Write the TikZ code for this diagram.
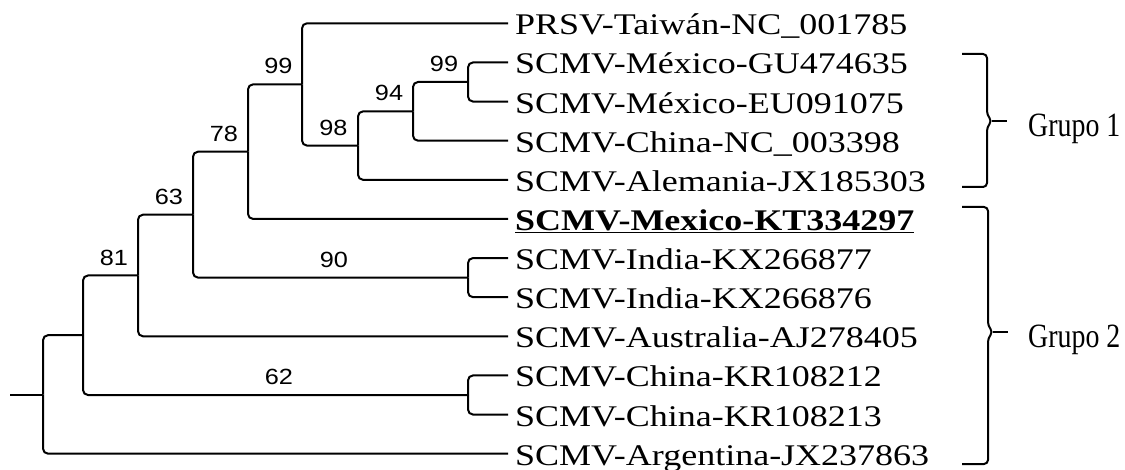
\documentclass[tikz,border=0pt]{standalone}
\usepackage{graphicx}
\usepackage{fontspec}
\setmainfont{Liberation Serif}
\newfontfamily\bsfont{Liberation Sans}
\newcommand\leafx[1]{\scalebox{1.2}[1]{#1}}
\newcommand\bsx[1]{\scalebox{1.15}[1]{#1}}
\newcommand\grpx[1]{\scalebox{0.82}[1]{#1}}
\tikzset{T04br/.style={line width=2pt,rounded corners=5pt},
         T04brk/.style={line width=2pt,rounded corners=4pt},
         T04lf/.style={anchor=west,inner xsep=7pt,inner ysep=0pt,text height=23pt,text depth=0pt,font=\fontsize{30}{36}\selectfont},
         T04bs/.style={anchor=south,inner sep=0pt,xshift=3.5pt,yshift=10pt,font=\bsfont\fontsize{22}{26}\selectfont},
         T04grp/.style={anchor=base west,inner sep=0pt,font=\fontsize{34}{40}\selectfont}}
\begin{document}
\begin{tikzpicture}[x=1pt,y=-1pt]
    \useasboundingbox (0,0) rectangle (1125,470);
    % leaves
    \foreach \n/\t [count=\i from 0] in {l0/PRSV-Taiwán-NC\_001785,l1/SCMV-México-GU474635,
        l2/SCMV-México-EU091075,l3/SCMV-China-NC\_003398,l4/SCMV-Alemania-JX185303,
        l5/{\textbf{\underline{SCMV-Mexico-KT334297}}},l6/SCMV-India-KX266877,l7/SCMV-India-KX266876,
        l8/SCMV-Australia-AJ278405,l9/SCMV-China-KR108212,l10/SCMV-China-KR108213,
        l11/SCMV-Argentina-JX237863}
      {\node[T04lf] (\n) at (508,{23.3+39.125*\i}) {\leafx{\t}};}
    % inner nodes
    \coordinate (nI) at (468,82.0);  \coordinate (nH) at (413,111.4);
    \coordinate (nF) at (358,145.6); \coordinate (nE) at (302,84.4);
    \coordinate (nD) at (248,151.7); \coordinate (nJ) at (468,277.6);
    \coordinate (nC) at (193,214.7); \coordinate (nB) at (138,275.5);
    \coordinate (nG) at (468,395.0); \coordinate (nA) at (83,335.2);
    \coordinate (nR) at (43,394.5);  \coordinate (stub) at (10,394.5);
    \draw[T04br] (stub) -- (nR);
    \foreach \p/\c in {nR/nA,nR/l11,nA/nB,nA/nG,nB/nC,nB/l8,nC/nD,nC/nJ,nD/nE,nD/l5,
        nE/l0,nE/nF,nF/nH,nF/l4,nH/nI,nH/l3,nI/l1,nI/l2,nJ/l6,nJ/l7,nG/l9,nG/l10}
      \draw[T04br] (\p) |- (\c);
    % bootstrap values
    \foreach \p/\c/\v in {nA/nB/81,nB/nC/63,nC/nD/78,nD/nE/99,nE/nF/98,nF/nH/94,
        nH/nI/99,nC/nJ/90,nA/nG/62}
      \path (\p) |- (\c) node[T04bs,pos=0.75] {\bsx{\v}};
    % groups
    \draw[T04brk] (962,54) -- (987,54) -- (987,115) -- (992,121) -- (987,127) -- (987,187) -- (962,187);
    \draw[T04brk] (992,121) -- (1007,121);
    \draw[T04brk] (962,207) -- (988,207) -- (988,326) -- (993,332) -- (988,338) -- (988,464) -- (962,464);
    \draw[T04brk] (993,332) -- (1008,332);
    \node[T04grp] (g1) at (1028,136.5) {\grpx{Grupo 1}};
    \node[T04grp] (g2) at (1028,348) {\grpx{Grupo 2}};
\end{tikzpicture}
\end{document}
